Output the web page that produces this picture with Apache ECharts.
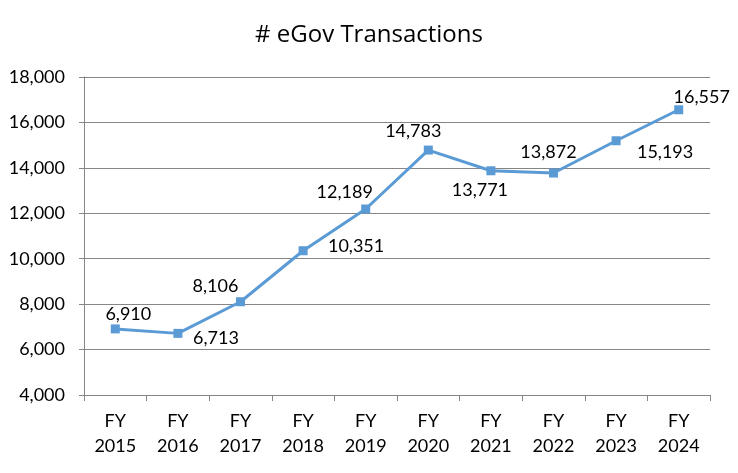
<!DOCTYPE html>
<html><head><meta charset="utf-8">
<script src="https://cdn.jsdelivr.net/npm/echarts@6/dist/echarts.min.js"></script>
<style>html,body{margin:0;padding:0;background:#fff}#c{width:738px;height:473px}</style>
</head><body><div id="c"></div>
<script>
const categories = ['FY\n2015','FY\n2016','FY\n2017','FY\n2018','FY\n2019','FY\n2020','FY\n2021','FY\n2022','FY\n2023','FY\n2024'];
const transactions = [6910, 6713, 8106, 10351, 12189, 14783, 13871, 13772, 15193, 16557];
const labelTexts = ['6,910','6,713','8,106','10,351','12,189','14,783','13,771','13,872','15,193','16,557'];
const yTicks = { min: 4000, max: 18000, interval: 2000 };

// label placement (layout only)
const labelOffsets = [[13,-15],[38,5],[-25,-16],[53,-5],[-21,-17],[-15,-19],[-11,19],[-5,-21],[49,11],[23,-13]];

const font = 'Lato';
const chart = echarts.init(document.getElementById('c'));
chart.setOption({
  animation: false,
  title: { text: '# eGov Transactions', left: 'center', top: 18,
    textStyle: { fontFamily: 'Open Sans', fontSize: 24, fontWeight: 'normal', color: '#000' } },
  grid: { left: 84, right: 28, top: 77, bottom: 78 },
  xAxis: {
    type: 'category', data: categories, boundaryGap: true,
    axisLine: { lineStyle: { color: '#868686', width: 1 } },
    axisTick: { show: true, length: 6, alignWithLabel: false, lineStyle: { color: '#868686' } },
    axisLabel: { fontFamily: font, fontSize: 18, color: '#000', lineHeight: 25, margin: 14, interval: 0 }
  },
  yAxis: {
    type: 'value', min: yTicks.min, max: yTicks.max, interval: yTicks.interval,
    axisLine: { show: true, lineStyle: { color: '#868686', width: 1 } },
    axisTick: { show: true, length: 5, lineStyle: { color: '#868686' } },
    splitLine: { lineStyle: { color: '#868686', width: 1 } },
    axisLabel: { fontFamily: font, fontSize: 18, color: '#000', margin: 19,
      formatter: v => v.toLocaleString('en-US') }
  },
  series: [{
    type: 'line', data: transactions.map((v, i) => ({
      value: v,
      label: { show: true, position: 'inside', offset: labelOffsets[i],
        formatter: () => labelTexts[i] }
    })),
    symbol: 'rect', symbolSize: 9,
    lineStyle: { color: '#5B9BD5', width: 3 },
    itemStyle: { color: '#5B9BD5' },
    label: { fontFamily: font, fontSize: 18, color: '#000', align: 'center', verticalAlign: 'middle' }
  }]
});
</script></body></html>
